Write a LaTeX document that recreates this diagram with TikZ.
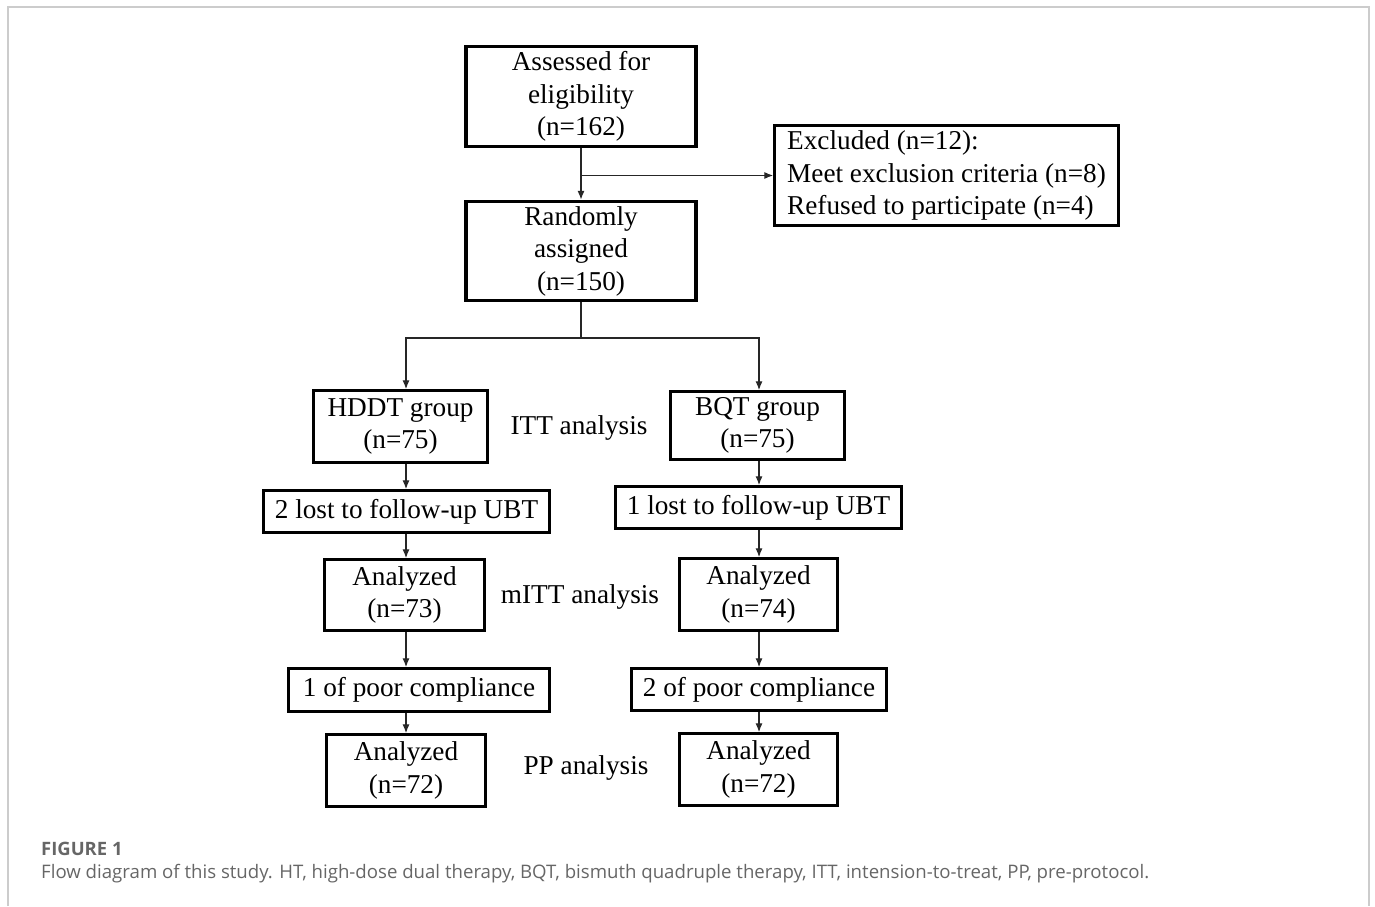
\documentclass[tikz,border=0pt]{standalone}
\usepackage{fontspec}
\setmainfont{Liberation Serif}
\newfontfamily\capfont{Open Sans}
\usetikzlibrary{arrows.meta}

\begin{document}
\begin{tikzpicture}[x=0.02cm, y=-0.02cm,
  >={Latex[length=5pt,width=4pt]},
  box/.style={draw, line width=1.9pt, align=center, inner sep=2pt,
    font=\fontsize{15.5}{18.5}\selectfont},
  lbl/.style={font=\fontsize{15.5}{18.5}\selectfont},
  link/.style={line width=0.6pt, draw=black!85}]
\useasboundingbox (0,0) rectangle (1375,906);
\draw[line width=1.1pt, black!20] (8,906) -- (8,7) -- (1369,7) -- (1369,906);

% top part
\node (assess)[box, minimum width=4.6cm, minimum height=1.99cm] at (581,96.5) {Assessed for\\eligibility\\(n=162)};
\node (excl)[box, align=left, minimum width=6.87cm, minimum height=1.99cm] at (946.5,175.5) {Excluded (n=12):\\Meet exclusion criteria (n=8)\\Refused to participate (n=4)};
\node (rand)[box, minimum width=4.6cm, minimum height=1.99cm] at (581,251) {Randomly\\assigned\\(n=150)};

% the two arms
\coordinate (split) at (581,338);
\coordinate (colL) at (406,338);
\coordinate (colR) at (759,338);
\node (hddt)[box, minimum width=3.47cm, minimum height=1.43cm] at (400.5,426.5) {HDDT group\\(n=75)};
\node (bqt)[box, minimum width=3.47cm, minimum height=1.35cm] at (757.5,425.5) {BQT group\\(n=75)};
\node (itt)[lbl] at (579,428) {ITT analysis};
\node (lostL)[box, minimum width=5.71cm, minimum height=0.83cm] at (406.5,511.5) {2 lost to follow-up UBT};
\node (lostR)[box, minimum width=5.71cm, minimum height=0.83cm] at (758.5,507.5) {1 lost to follow-up UBT};
\node (anaL)[box, minimum width=3.19cm, minimum height=1.41cm] at (404.5,595) {Analyzed\\(n=73)};
\node (anaR)[box, minimum width=3.15cm, minimum height=1.43cm] at (758.5,594.5) {Analyzed\\(n=74)};
\node (mitt)[lbl] at (580,597) {mITT analysis};
\node (poorL)[box, minimum width=5.21cm, minimum height=0.85cm] at (419,690) {1 of poor compliance};
\node (poorR)[box, minimum width=5.09cm, minimum height=0.83cm] at (759,689.5) {2 of poor compliance};
\node (ppL)[box, minimum width=3.17cm, minimum height=1.43cm] at (406,770.5) {Analyzed\\(n=72)};
\node (ppR)[box, minimum width=3.15cm, minimum height=1.43cm] at (758.5,769.5) {Analyzed\\(n=72)};
\node (pp)[lbl] at (586,768) {PP analysis};

% connectors
\draw[link, ->] (assess) -- (rand);
\draw[link, ->] (assess.south |- excl.west) -- (excl.west);
\draw[link] (rand) -- (split);
\draw[link, ->] (split) -- (colL) -- (colL |- hddt.north);
\draw[link, ->] (split) -- (colR) -- (colR |- bqt.north);
\draw[link, ->] (colL |- hddt.south) -- (colL |- lostL.north);
\draw[link, ->] (colL |- lostL.south) -- (colL |- anaL.north);
\draw[link, ->] (colL |- anaL.south) -- (colL |- poorL.north);
\draw[link, ->] (colL |- poorL.south) -- (colL |- ppL.north);
\draw[link, ->] (colR |- bqt.south) -- (colR |- lostR.north);
\draw[link, ->] (colR |- lostR.south) -- (colR |- anaR.north);
\draw[link, ->] (colR |- anaR.south) -- (colR |- poorR.north);
\draw[link, ->] (colR |- poorR.south) -- (colR |- ppR.north);

% caption
\node (fig)[anchor=base west, text=black!60, font=\capfont\bfseries\fontsize{10.5}{13}\selectfont] at (35,855) {FIGURE 1};
\node (cap)[anchor=base west, text=black!60, font=\capfont\fontsize{10.6}{13}\selectfont] at (35,878) {Flow diagram of this study. HT, high-dose dual therapy, BQT, bismuth quadruple therapy, ITT, intension-to-treat, PP, pre-protocol.};
\end{tikzpicture}
\end{document}
